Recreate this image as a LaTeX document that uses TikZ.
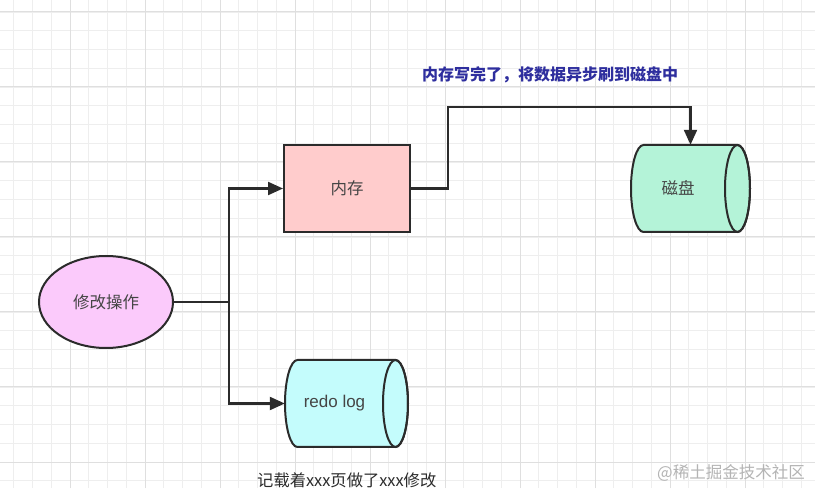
\documentclass[tikz,border=0pt]{standalone}
\usepackage{fontspec}
\setmainfont{Noto Sans CJK SC}
\newfontfamily\lat{Liberation Sans}
\usetikzlibrary{arrows.meta,shapes.geometric}
\definecolor{minorgrid}{HTML}{EEEEEE}
\definecolor{majorgrid}{HTML}{DFDFDF}
\definecolor{edge}{HTML}{2B2B2B}
\definecolor{opfill}{HTML}{FBCAFB}
\definecolor{memfill}{HTML}{FFCCCC}
\definecolor{diskfill}{HTML}{B4F3D8}
\definecolor{redofill}{HTML}{C4FCFC}
\definecolor{labelblue}{HTML}{2E2E9E}
\definecolor{inner}{HTML}{454545}
\definecolor{wm}{HTML}{B4B4B4}
\tikzset{
  shapebox/.style={draw=edge, line width=2pt, inner sep=0pt, font=\fontsize{16.5}{19}\selectfont, text=inner},
  cylbody/.style={draw=edge, line width=2pt},
  ghost/.style={inner sep=0pt},
  conn/.style={draw=edge, line width=2.2pt},
  arr/.style={conn, -{Triangle[length=15pt,width=13pt]}},
  mingrid/.style={draw=minorgrid, line width=0.8pt},
  majgrid/.style={draw=majorgrid, line width=1pt},
}
\begin{document}
\begin{tikzpicture}[x=1pt,y=1pt]
\useasboundingbox (0,0) rectangle (815,488);
\fill[white] (0,0) rectangle (815,488);
% grid
\foreach \k in {0,...,42} {\pgfmathsetmacro\xx{13.75+18.75*\k} \draw[mingrid] (\xx,0) -- (\xx,488);}
\foreach \k in {0,...,25} {\pgfmathsetmacro\yy{476-18.75*\k} \draw[mingrid] (0,\yy) -- (815,\yy);}
\foreach \k in {0,...,9} {\pgfmathsetmacro\xx{70+75*\k} \draw[majgrid] (\xx,0) -- (\xx,488);}
\foreach \k in {0,...,6} {\pgfmathsetmacro\yy{476-75*\k} \draw[majgrid] (0,\yy) -- (815,\yy);}

% nodes
\node[shapebox, ellipse, fill=opfill, minimum width=134pt, minimum height=92pt] (op) at (106,186) {修改操作};
\node[shapebox, rectangle, fill=memfill, minimum width=126pt, minimum height=87pt] (mem) at (347,299.5) {内存};

% disk cylinder
\draw[cylbody, fill=diskfill] (643.5,343) -- (737.5,343) arc[start angle=90, end angle=-90, x radius=12.5, y radius=43.5] -- (643.5,256) arc[start angle=270, end angle=90, x radius=12.5, y radius=43.5] -- cycle;
\draw[cylbody] (737.5,299.5) ellipse [x radius=12.5, y radius=43.5];
\node[ghost, minimum width=119pt, minimum height=87pt] (disk) at (690.5,299.5) {};
\node[ghost, font=\fontsize{16.5}{19}\selectfont, text=inner] (disklabel) at (678,299.5) {磁盘};

% redo log cylinder
\draw[cylbody, fill=redofill] (297.5,128) -- (395.5,128) arc[start angle=90, end angle=-90, x radius=12.5, y radius=43.5] -- (297.5,41) arc[start angle=270, end angle=90, x radius=12.5, y radius=43.5] -- cycle;
\draw[cylbody] (395.5,84.5) ellipse [x radius=12.5, y radius=43.5];
\node[ghost, minimum width=123pt, minimum height=87pt] (redo) at (346.5,84.5) {};
\node[ghost, font=\lat\fontsize{17}{20}\selectfont, text=inner] (redolabel) at (334.5,85) {redo log};

% connectors
\coordinate (j) at (229,186);
\coordinate (top) at (448,381);
\draw[conn] (op.east) -- (j);
\draw[arr] (j) |- (mem.west);
\draw[arr] (j) |- (redo.west);
\draw[arr] (mem.east) -| (top) -| (disk.north);

% texts
\node[ghost, font=\bfseries\fontsize{16}{19}\selectfont, text=labelblue] (toplabel) at (550,413) {内存写完了，将数据异步刷到磁盘中};
\node[ghost, font=\fontsize{16.3}{19}\selectfont, text=edge, anchor=west] (note) at (257,8) {记载着xxx页做了xxx修改};
\node[ghost, font=\fontsize{16.5}{19}\selectfont, text=wm, anchor=west] (wmark) at (657,15) {@稀土掘金技术社区};
\end{tikzpicture}
\end{document}
